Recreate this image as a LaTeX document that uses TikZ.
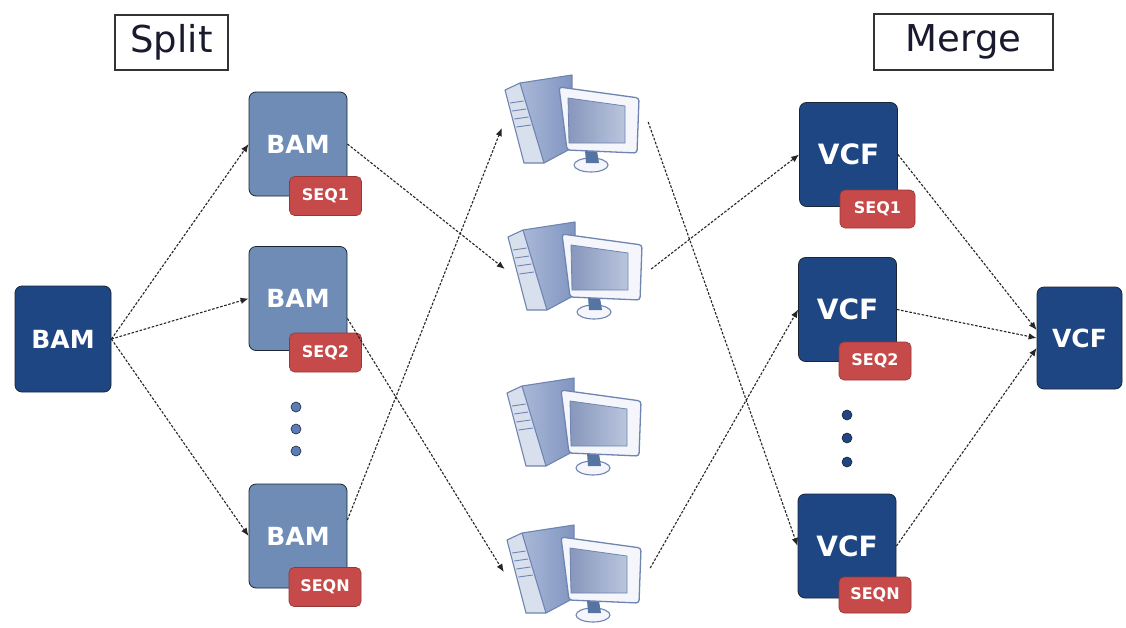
\documentclass[tikz,border=0pt]{standalone}
\usepackage{fontspec}
\setmainfont{DejaVu Sans}
\usetikzlibrary{arrows.meta,calc}

\definecolor{navy}{HTML}{1E4682}
\definecolor{slate}{HTML}{6E8CB5}
\definecolor{slatedot}{HTML}{5A7DB8}
\definecolor{tagred}{HTML}{C64A4A}
\definecolor{boxline}{HTML}{1C2536}
\definecolor{titleline}{HTML}{333333}
\definecolor{titletext}{HTML}{1A1A2E}
\definecolor{pcline}{HTML}{6F84B0}
\definecolor{pcside}{HTML}{8195C0}
\definecolor{pcsidelight}{HTML}{A9B8D8}
\definecolor{pcface}{HTML}{D8E0EE}
\definecolor{pcwhite}{HTML}{F4F6FB}
\definecolor{scrdark}{HTML}{8797BC}
\definecolor{scrlight}{HTML}{BAC5DD}

\tikzset{
  filebox/.style={rounded corners=7pt, draw=boxline, line width=0.8pt, text=white,
    font=\bfseries\fontsize{25}{30}\selectfont, minimum width=98pt, minimum height=104pt, inner sep=0pt},
  bambox/.style={filebox, fill=slate},
  vcfbox/.style={filebox, fill=navy, font=\bfseries\fontsize{28}{32}\selectfont},
  seqtag/.style={rounded corners=5pt, fill=tagred, draw=tagred!75!black, line width=0.6pt, text=white,
    font=\bfseries\fontsize{16}{18}\selectfont, minimum width=72pt, minimum height=39pt, inner sep=0pt},
  titlebox/.style={draw=titleline, line width=2.5pt, fill=white, text=titletext,
    font=\fontsize{37}{40}\selectfont, inner sep=0pt},
  elldot/.style={circle, minimum size=10pt, inner sep=0pt, draw=boxline, line width=0.6pt},
  pcspot/.style={rectangle, minimum width=146pt, minimum height=90pt, inner sep=0pt},
  flow/.style={draw=black!85, line width=1.1pt, dash pattern=on 2.6pt off 1.6pt,
    -{Latex[length=8pt,width=6.5pt]}},
  computer/.pic={
    % tower: side and front faces
    \shade[left color=pcsidelight, right color=pcside] (15,-7) -- (67,-15) -- (67,58) -- (39,73) -- cycle;
    \draw[pcline, line width=1.1pt, line join=round] (15,-7) -- (67,-15) -- (67,58) -- (39,73);
    \filldraw[pcline, fill=pcface, line width=1.1pt, line join=round] (0,0) -- (15,-7) -- (39,73) -- (19,73) -- cycle;
    \foreach \yy in {12,20,28,36}
      \draw[pcline, line width=0.9pt] ({0.26*\yy+2},\yy+1) -- ({15+0.3*(\yy+7)-2},\yy-1);
    % stand
    \filldraw[pcline, fill=pcwhite, line width=1.1pt] (86,75) ellipse (17 and 7);
    \fill[navy!75] (80,60) -- (92,61) -- (94,73) -- (81,73) -- cycle;
    % monitor frame and screen
    \filldraw[pcline, fill=pcwhite, line width=1.3pt, rounded corners=3pt]
      (54,-3) -- (134,8) -- (132,63) -- (62,60) -- cycle;
    \shade[left color=scrdark, right color=scrlight] (63,8) -- (120,16) -- (120,53) -- (64,53) -- cycle;
    \draw[pcline, line width=0.8pt] (63,8) -- (120,16) -- (120,53) -- (64,53) -- cycle;
  }
}

\begin{document}
\begin{tikzpicture}[x=1pt, y=-1pt]
\useasboundingbox[fill=white] (0,0) rectangle (1126,627);

% headings
\node[titlebox, minimum width=113pt, minimum height=55pt] (split) at (171.5,42.5) {Split};
\node[titlebox, minimum width=179pt, minimum height=56pt] (merge) at (963.5,42) {Merge};

% input file and per-sequence pieces
\node[filebox, fill=navy, minimum width=96pt, minimum height=106pt] (b0) at (63,339) {BAM};
\node[bambox] (b1) at (298,144) {BAM};
\node[bambox] (b2) at (298,298.5) {BAM};
\node[bambox] (bn) at (298,536) {BAM};
\node[seqtag] (t1) at (325.5,196) {SEQ1};
\node[seqtag] (t2) at (325.5,352.5) {SEQ2};
\node[seqtag] (tn) at (325,587) {SEQN};
\node[elldot, fill=slatedot] (bd1) at (296,407) {};
\node[elldot, fill=slatedot] (bd2) at (296,429) {};
\node[elldot, fill=slatedot] (bd3) at (296,451) {};

% compute nodes
\path (505,90) pic {computer} ++(70,32) node[pcspot] (pc1) {};
\path (508,237) pic {computer} ++(70,32) node[pcspot] (pc2) {};
\path (507,393) pic {computer} ++(70,32) node[pcspot] (pc3) {};
\path (507,540) pic {computer} ++(70,32) node[pcspot] (pc4) {};

% per-sequence results and merged output
\node[vcfbox] (v1) at (848.5,154.5) {VCF};
\node[vcfbox] (v2) at (847.5,309.5) {VCF};
\node[vcfbox] (vn) at (847,546) {VCF};
\node[seqtag, minimum width=75pt, minimum height=38pt] (s1) at (877.5,209) {SEQ1};
\node[seqtag, minimum height=38pt] (s2) at (875,361) {SEQ2};
\node[seqtag, minimum height=36pt] (sn) at (875,595) {SEQN};
\node[elldot, fill=navy] (vd1) at (847,415) {};
\node[elldot, fill=navy] (vd2) at (847,438) {};
\node[elldot, fill=navy] (vd3) at (847,462) {};
\node[filebox, fill=navy, minimum width=85pt, minimum height=102pt] (v0) at (1079.5,338) {VCF};

% split
\draw[flow] (b0.east) -- (b1.west);
\draw[flow] (b0.east) -- (b2.west);
\draw[flow] (b0.east) -- (bn.west);
% dispatch
\draw[flow] (b1.east) -- (pc2.west);
\draw[flow] ([yshift=-20pt]b2.east) -- (pc4.west);
\draw[flow] ([yshift=16pt]bn.east) -- ([yshift=-6pt]pc1.west);
% collect
\draw[flow] (pc1.east) -- (vn.west);
\draw[flow] (pc2.east) -- (v1.west);
\draw[flow] ([yshift=4pt]pc4.east) -- (v2.west);
% merge
\draw[flow] (v1.east) -- ([yshift=8pt]v0.west);
\draw[flow] (v2.east) -- (v0.west);
\draw[flow] (vn.east) -- ([yshift=-10pt]v0.west);
\end{tikzpicture}
\end{document}
